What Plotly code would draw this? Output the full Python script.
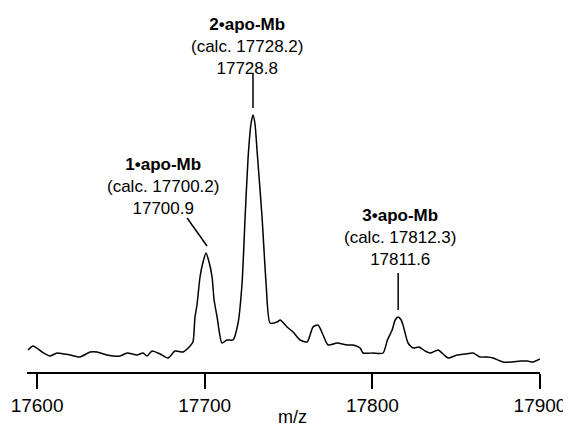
import plotly.graph_objects as go

# m/z values and intensities (arbitrary units)
mz = [17594.6, 17597.6, 17603.0, 17607.7, 17611.9, 17619.7, 17625.6, 17631.6, 17635.8,
      17641.7, 17649.5, 17653.7, 17659.6, 17663.2, 17665.6, 17668.6, 17673.4, 17678.1,
      17682.3, 17687.1, 17691.3, 17693.0, 17694.2, 17695.4, 17697.2, 17699.0, 17700.8,
      17702.6, 17704.4, 17705.6, 17707.4, 17710.3, 17713.3, 17716.9, 17719.9, 17722.3,
      17724.1, 17725.9, 17727.6, 17728.8, 17730.0, 17731.2, 17734.2, 17736.6, 17739.0,
      17743.2, 17745.0, 17749.1, 17752.7, 17756.9, 17761.1, 17764.6, 17767.6, 17770.6,
      17773.6, 17779.0, 17785.0, 17788.5, 17792.7, 17794.5, 17800.4, 17806.4, 17809.0,
      17811.8, 17813.6, 17815.4, 17817.2, 17818.3, 17821.3, 17824.3, 17827.9, 17831.5,
      17834.5, 17839.2, 17842.2, 17845.2, 17850.6, 17855.3, 17860.1, 17864.3, 17868.5,
      17872.0, 17878.0, 17883.4, 17888.2, 17892.4, 17895.9, 17900.0]
intensity = [22, 26, 20, 16, 19, 17, 15, 20, 20,
             17, 16, 19, 17, 19, 16, 21, 18, 14,
             21, 20, 26, 30, 55, 67, 95, 110, 119,
             110, 95, 72, 55, 29, 32, 32, 49, 89,
             155, 215, 248, 257, 248, 222, 155, 89, 49,
             50, 52, 45, 40, 32, 30, 45, 47, 37,
             27, 29, 27, 27, 24, 19, 19, 19, 32,
             42, 52, 55, 52, 47, 29, 24, 25, 21,
             19, 22, 18, 14, 17, 18, 19, 15, 15,
             14, 10, 10, 11, 11, 10, 13]

# peak labels
label_text = ["<b>1•apo-Mb</b><br>(calc. 17700.2)<br>17700.9",
              "<b>2•apo-Mb</b><br>(calc. 17728.2)<br>17728.8",
              "<b>3•apo-Mb</b><br>(calc. 17812.3)<br>17811.6"]
label_x = [17675.1, 17725.5, 17816.6]
label_y = [186, 326, 135]
# leader lines (start -> end, data units)
lead_x0 = [17689.5, 17728.8, 17815.4]
lead_y0 = [154, 299, 99]
lead_x1 = [17701.4, 17728.8, 17815.4]
lead_y1 = [126, 264, 62]

tick_vals = [17600, 17700, 17800, 17900]
tick_text = ["17600", "17700", "17800", "17900"]
x_title = "m/z"

fig = go.Figure()
fig.add_trace(go.Scatter(x=mz, y=intensity, mode="lines",
                         line=dict(color="black", width=1.5, shape="spline", smoothing=0.6),
                         hoverinfo="skip", showlegend=False))

for t, x, y in zip(label_text, label_x, label_y):
    fig.add_annotation(x=x, y=y, text=t, showarrow=False, xanchor="center", yanchor="middle",
                       font=dict(family="Liberation Sans, Arial, sans-serif", size=17, color="black"))
for x0, y0, x1, y1 in zip(lead_x0, lead_y0, lead_x1, lead_y1):
    fig.add_shape(type="line", x0=x0, y0=y0, x1=x1, y1=y1, xref="x", yref="y",
                  line=dict(color="black", width=1.5))

# axis title placed just below the tick labels
fig.add_annotation(x=0.518, y=-0.124, xref="paper", yref="paper", text=x_title,
                   showarrow=False, xanchor="center", yanchor="middle",
                   font=dict(family="Liberation Sans, Arial, sans-serif", size=18, color="black"))

# the page body adds an 8px offset, so the figure is 8px smaller in each direction
fig.update_layout(
    width=563, height=419,
    margin=dict(l=19, r=31, t=0, b=55),
    paper_bgcolor="white", plot_bgcolor="white",
    font=dict(family="Liberation Sans, Arial, sans-serif", color="black"),
    xaxis=dict(range=[17594, 17900], showgrid=False, zeroline=False, automargin=False,
               showline=True, linecolor="black", linewidth=2,
               ticks="outside", ticklen=15, tickwidth=2, tickcolor="black",
               tickvals=tick_vals, ticktext=tick_text,
               tickfont=dict(size=19, color="black")),
    yaxis=dict(range=[0, 364], visible=False, fixedrange=True),
)

fig.write_html("out.html")
